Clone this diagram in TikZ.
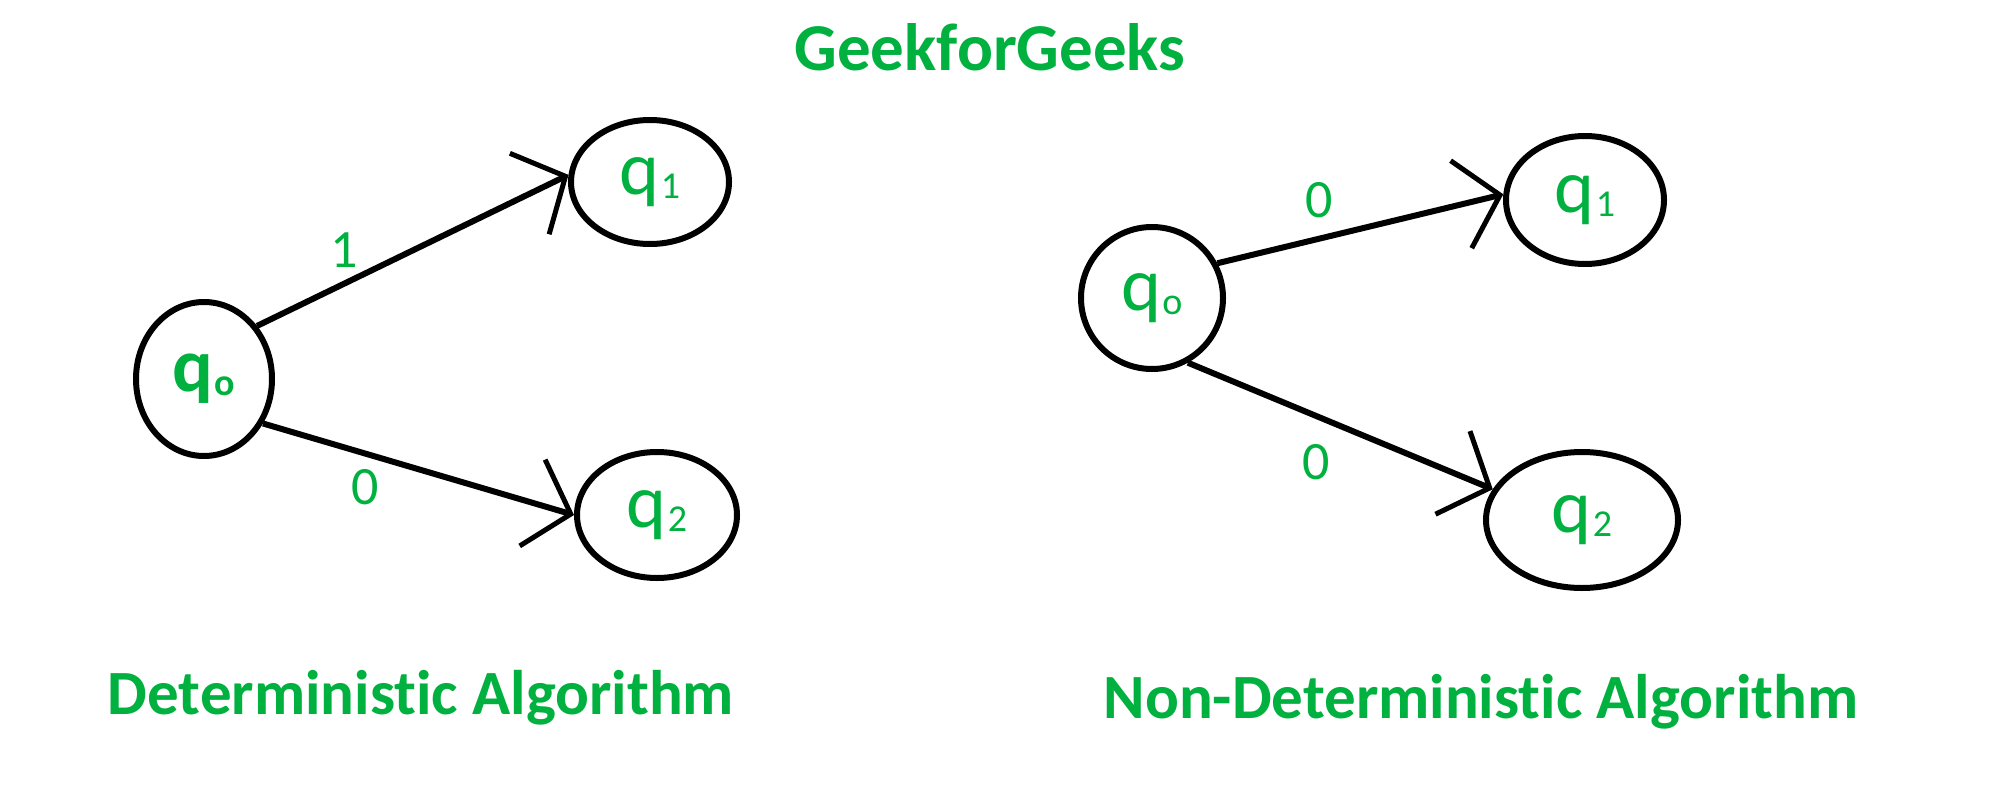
\documentclass[tikz,border=0pt]{standalone}
\usepackage{fontspec}
\setmainfont{Carlito}[Ligatures=NoCommon]
\usetikzlibrary{shapes.geometric,arrows.meta}
\definecolor{ggreen}{HTML}{00B140}
\tikzset{
  state/.style={ellipse, draw=black, line width=6pt, inner sep=0pt, text=ggreen},
  trans/.style={draw=black, line width=6pt, -{Straight Barb[length=40pt, width=90pt, line width=5pt]}},
  elabel/.style={text=ggreen, font=\fontsize{54}{58}\selectfont, inner sep=0pt},
  heading/.style={text=ggreen, font=\fontsize{63}{66}\selectfont\bfseries, inner sep=0pt}
}
\newcommand{\qlab}[2]{\fontsize{76}{80}\selectfont q\hspace{1pt}{\fontsize{38}{40}\selectfont\raisebox{-4pt}{#1}}#2}
\begin{document}
\begin{tikzpicture}[x=1pt,y=-1pt]
\useasboundingbox[fill=white] (0,0) rectangle (2000,803);
\node[heading, font=\fontsize{67}{70}\selectfont\bfseries] (title) at (990,47) {GeekforGeeks};
% left
\node[state, minimum width=136pt, minimum height=154pt] (lq0) at (204,379) {\bfseries\qlab{o}{}};
\node[state, minimum width=158pt, minimum height=124pt] (lq1) at (650,182) {\qlab{1}{}};
\node[state, minimum width=160pt, minimum height=126pt] (lq2) at (657,515) {\qlab{2}{}};
\draw[trans] (lq0.45) -- (lq1.175);
\draw[trans] (lq0.-37) -- (lq2.180);
\node[elabel] (l1) at (344,250) {1};
\node[elabel] (l0) at (365,487) {0};
\node[heading] (ldet) at (421,698) {Deterministic Algorithm};
% right
\node[state, minimum width=142pt, minimum height=142pt] (rq0) at (1152,298) {\qlab{o}{}};
\node[state, minimum width=158pt, minimum height=128pt] (rq1) at (1585,200) {\qlab{1}{}};
\node[state, minimum width=192pt, minimum height=136pt] (rq2) at (1582,520) {\qlab{2}{}};
\draw[trans] (rq0.28) -- (rq1.176);
\draw[trans] (rq0.-61) -- (rq2.161);
\node[elabel] (r1) at (1319,200) {0};
\node[elabel] (r0) at (1316,462) {0};
\node[heading] (rndet) at (1481,702) {Non-Deterministic Algorithm};
\end{tikzpicture}
\end{document}
